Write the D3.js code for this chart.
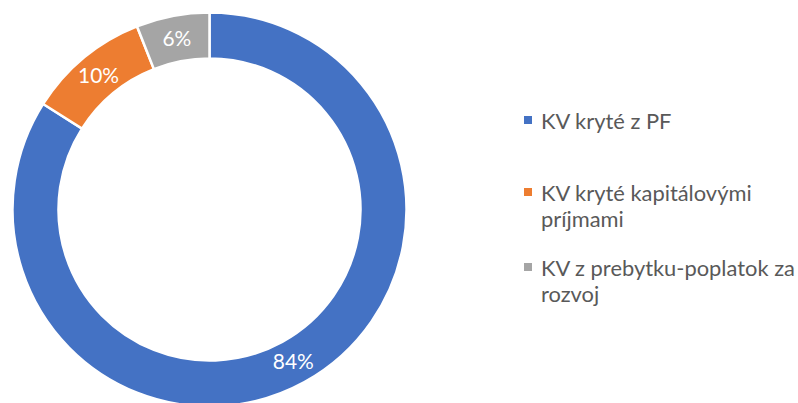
<!DOCTYPE html>
<html><head><meta charset="utf-8">
<script src="https://cdn.jsdelivr.net/npm/d3@7"></script>
<style>html,body{margin:0;padding:0;background:#fff;}svg{display:block;}</style>
</head><body>
<svg id="chart" width="798" height="403"></svg>
<script>
const categories = ["KV kryté z PF", "KV kryté kapitálovými príjmami", "KV z prebytku-poplatok za rozvoj"];
const values = [84, 10, 6];
const labels = ["84%", "10%", "6%"];
const legendLines = [["KV kryté z PF"], ["KV kryté kapitálovými", "príjmami"], ["KV z prebytku-poplatok za", "rozvoj"]];
const colors = ["#4472C4", "#ED7D31", "#A5A5A5"];

const svg = d3.select("#chart");
const font = "Lato, 'Open Sans', sans-serif";
const cx = 209.5, cy = 209.5, rOut = 197, rIn = 151;

// fit font sizes to reference text widths
function fitSize(str, targetW) {
  const t = svg.append("text").style("font-family", font).style("font-size", "100px").text(str);
  const w = t.node().getComputedTextLength();
  t.remove();
  return 100 * targetW / w;
}
const legendSize = fitSize("KV z prebytku-poplatok za", 254);
const labelSize = fitSize("84%", 41);

const pie = d3.pie().sort(null).value(d => d);
const arcs = pie(values);
const arc = d3.arc().innerRadius(rIn).outerRadius(rOut);
const labelArc = d3.arc().innerRadius((rIn + rOut) / 2).outerRadius((rIn + rOut) / 2);

const g = svg.append("g").attr("transform", `translate(${cx},${cy})`);
g.selectAll("path").data(arcs).join("path")
  .attr("d", arc)
  .attr("fill", (d, i) => colors[i])
  .attr("stroke", "#fff").attr("stroke-width", 2.5);

g.selectAll("text").data(arcs).join("text")
  .attr("transform", d => `translate(${labelArc.centroid(d)})`)
  .attr("text-anchor", "middle").attr("dy", "0.35em")
  .attr("fill", "#fff").style("font-family", font).style("font-size", labelSize + "px")
  .text((d, i) => labels[i]);

// legend
const legY = [129, 201, 276];
const lg = svg.append("g");
legendLines.forEach((lines, i) => {
  lg.append("rect").attr("x", 524).attr("y", legY[i] - 13).attr("width", 8).attr("height", 8).attr("fill", colors[i]);
  const t = lg.append("text").attr("x", 541).attr("y", legY[i])
    .attr("fill", "#595959").style("font-family", font).style("font-size", legendSize + "px");
  lines.forEach((ln, j) => {
    t.append("tspan").attr("x", 541).attr("dy", j === 0 ? 0 : 26).text(ln);
  });
});
</script>
</body></html>
